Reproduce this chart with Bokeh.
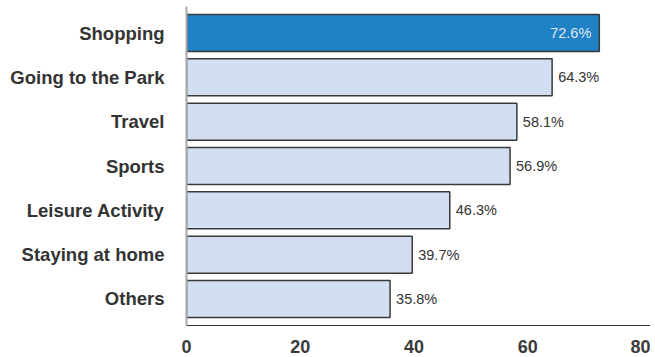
from bokeh.plotting import figure
from bokeh.models import ColumnDataSource, FactorRange, FixedTicker, LabelSet
from bokeh.core.properties import value
from bokeh.embed import file_html
from bokeh.resources import INLINE

categories = ["Shopping", "Going to the Park", "Travel", "Sports",
              "Leisure Activity", "Staying at home", "Others"]
values = [72.6, 64.3, 58.1, 56.9, 46.3, 39.7, 35.8]
x_ticks = [0, 20, 40, 60, 80]

highlight = "Shopping"
labels = [f"{v:.1f}%" for v in values]
fills = ["#2181c5" if c == highlight else "#d2dff2" for c in categories]

src_out = ColumnDataSource(dict(
    cat=[c for c in categories if c != highlight],
    val=[v for c, v in zip(categories, values) if c != highlight],
    lab=[l for c, l in zip(categories, labels) if c != highlight]))
src_in = ColumnDataSource(dict(
    cat=[c for c in categories if c == highlight],
    val=[v for c, v in zip(categories, values) if c == highlight],
    lab=[l for c, l in zip(categories, labels) if c == highlight]))
src_all = ColumnDataSource(dict(cat=categories, val=values, fill=fills))

yr = FactorRange(*reversed(categories), range_padding=0.028, range_padding_units="percent")

p = figure(width=650, height=355, y_range=yr, x_range=(0, 81.6),
           output_backend="svg", toolbar_location=None,
           min_border_left=186, min_border_right=0, min_border_top=6,
           min_border_bottom=30)

p.hbar(y="cat", right="val", left=0, height=0.835, source=src_all,
       fill_color="fill", line_color="#3a3a3a", line_width=1.5)

p.add_layout(LabelSet(x="val", y="cat", text="lab", source=src_out,
                      x_offset=6, text_baseline="middle", text_align="left",
                      text_font=value("Liberation Sans"), text_font_size="14.5px",
                      text_color="#333333"))
p.add_layout(LabelSet(x="val", y="cat", text="lab", source=src_in,
                      x_offset=-8, text_baseline="middle", text_align="right",
                      text_font=value("Liberation Sans"), text_font_size="14.5px",
                      text_color="#dfe8f3"))

p.outline_line_color = None
p.grid.grid_line_color = None

xa = p.xaxis[0]
xa.ticker = FixedTicker(ticks=x_ticks)
xa.major_tick_line_color = None
xa.minor_tick_line_color = None
xa.axis_line_color = "#333333"
xa.axis_line_width = 1.2
xa.major_label_standoff = 8
xa.major_label_text_font = "Liberation Sans"
xa.major_label_text_font_size = "18px"
xa.major_label_text_font_style = "bold"
xa.major_label_text_color = "#3a3a3a"

ya = p.yaxis[0]
ya.major_tick_line_color = None
ya.minor_tick_line_color = None
ya.axis_line_color = "#a8a8a8"
ya.axis_line_width = 2
ya.major_label_standoff = 16
ya.major_label_text_font = "Liberation Sans"
ya.major_label_text_font_size = "18.5px"
ya.major_label_text_font_style = "bold"
ya.major_label_text_color = "#333333"

open("out.html", "w").write(file_html(p, INLINE))
